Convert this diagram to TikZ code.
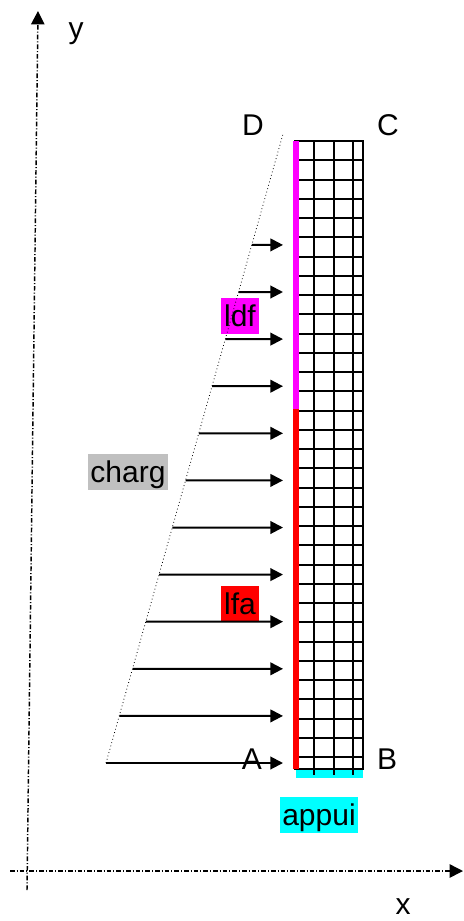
\documentclass[tikz,border=0pt]{standalone}
\usepackage{fontspec}
\setmainfont{Liberation Sans}
\usetikzlibrary{calc}
\usetikzlibrary{arrows.meta}

\definecolor{ldfcol}{RGB}{255,0,255}
\definecolor{lfacol}{RGB}{255,0,0}
\definecolor{appuicol}{RGB}{0,255,255}
\definecolor{chargcol}{RGB}{192,192,192}

\begin{document}
\begin{tikzpicture}[x=0.75pt,y=-0.75pt,
    lbl/.style={font=\fontsize{22.5}{27}\selectfont,inner sep=0pt,anchor=base},
    tag/.style={font=\fontsize{22.5}{27}\selectfont,inner xsep=2pt,inner ysep=1pt,text height=20.4pt,text depth=4.8pt},
    axe/.style={line width=1.1pt,dash pattern=on 3.5pt off 1.5pt on 0.75pt off 1.5pt,-{Triangle[length=10pt,width=10pt]}},
    force/.style={line width=1.5pt,-{Triangle[length=9.5pt,width=9.5pt]}},
    maille/.style={line width=1.5pt}]%
    \useasboundingbox (0,0) rectangle (464,921);
    \coordinate (xs) at (10,871);
    \coordinate (xe) at (463,871);
    \coordinate (ys) at (27,890);
    \coordinate (ye) at (38,11);
    \draw[axe] (xs) -- (xe);
    \draw[axe] (ys) -- (ye);
    \node[lbl] (ylab) at (76,38) {y};
    \node[lbl] (xlab) at (403,914) {x};
    \node[tag,fill=chargcol] (charg) at (128,472) {charg};
    \node[tag,fill=ldfcol] (ldf) at (240,316) {ldf};
    \node[tag,fill=lfacol] (lfa) at (240,604) {lfa};
    \node[tag,fill=appuicol] (appui) at (319,815) {appui};
    \fill[appuicol] (296,769) rectangle (363,778);
    \begin{scope}[maille]
        \foreach \k in {1,...,32}
            \draw (295,{141+19.25*\k}) -- (363,{141+19.25*\k});
        \foreach \k in {1,2,3}
            \draw ({295+19.4*\k},141) -- ({295+19.4*\k},775);
        \draw (295,141) rectangle (363,769);
    \end{scope}
    \fill[ldfcol] (293,141) rectangle (299,409);
    \fill[lfacol] (293,409) rectangle (299,769);
    \coordinate (P) at (106,763);
    \coordinate (Q) at (283,134);
    \draw[dotted,line width=0.6pt] (P) -- (Q);
    \foreach \i in {0,...,11} {
        \coordinate (f\i) at (283,{763-47.1*\i});
        \coordinate (s\i) at ($(P)!{\i*47.1/629}!(Q)$);
        \draw[force] (s\i) -- (f\i);
    }
    \node[lbl] (D) at (253,135) {D};
    \node[lbl] (C) at (388,135) {C};
    \node[lbl] (A) at (252,769) {A};
    \node[lbl] (B) at (387,769) {B};
\end{tikzpicture}
\end{document}
